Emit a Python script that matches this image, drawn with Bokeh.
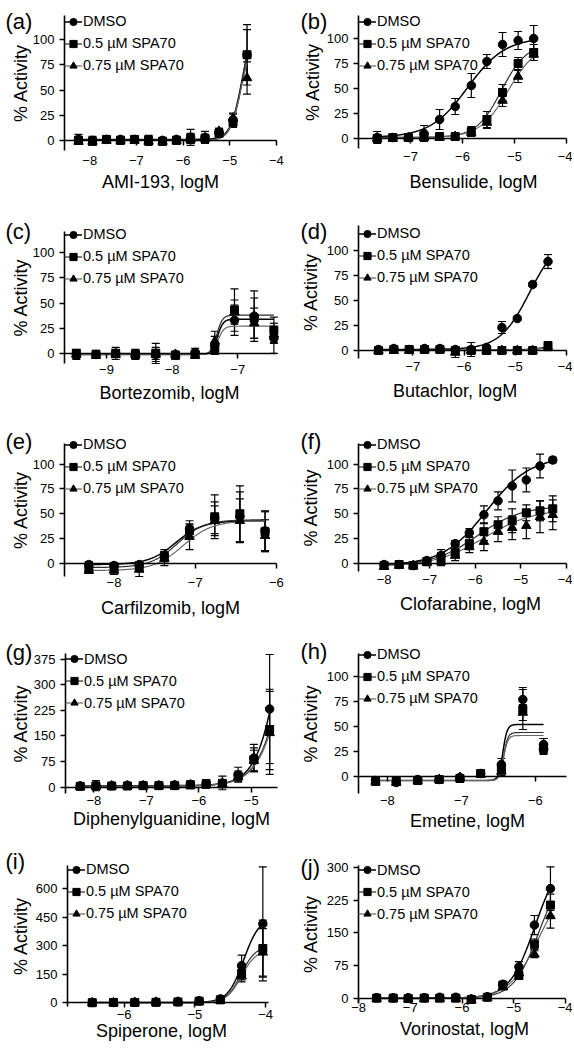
import math
import numpy as np
from bokeh.plotting import figure
from bokeh.models import (Range1d, FixedTicker, LinearAxis, Whisker, TeeHead,
                          ColumnDataSource, Label)
from bokeh.layouts import gridplot
from bokeh.embed import file_html
from bokeh.resources import INLINE

SERIES = ["DMSO", "0.5 \u00b5M SPA70", "0.75 \u00b5M SPA70"]
Y100_TICKS = [0, 25, 50, 75, 100]

# (a) AMI-193
A_X = [-8.24, -7.94, -7.64, -7.34, -7.04, -6.74, -6.44, -6.14, -5.84, -5.53, -5.23, -4.93, -4.63]
A_DMSO = [1, 0, 1, 1, 1, 0, 0, 1, 3, 3, 8, 20, 85]
A_DMSO_SD = [5, 4, 3, 3, 3, 5, 3, 3, 8, 6, 4, 7, 30]
A_SPA05 = [0, -1, 1, 0, 1, 0, -1, 0, 2, 2, 7, 18, 85]
A_SPA05_SD = [4, 3, 2, 3, 2, 4, 3, 2, 5, 4, 3, 5, 25]
A_SPA075 = [-1, -1, 0, 0, 0, -1, -1, 0, 1, 2, 9, 22, 62]
A_SPA075_SD = [3, 3, 2, 2, 2, 3, 2, 2, 4, 3, 3, 4, 16]
A_BOTTOM = [1, 0, 0]
A_TOP = [120, 125, 110]
A_LOGEC50 = [-4.735, -4.72, -4.74]
A_HILL = [3.5, 3.5, 3.4]
A_XTICKS = [-8, -7, -6, -5, -4]

# (b) Bensulide
B_X = [-7.64, -7.34, -7.04, -6.74, -6.44, -6.14, -5.83, -5.53, -5.23, -4.93, -4.63]
B_DMSO = [1, 1, 1, 5, 19, 32, 53, 77, 94, 98, 100]
B_DMSO_SD = [6, 3, 2, 8, 10, 8, 12, 7, 12, 9, 13]
B_SPA05 = [0, 1, 1, 2, 2, 2, 7, 19, 46, 75, 86]
B_SPA05_SD = [4, 3, 2, 3, 2, 2, 5, 8, 8, 6, 8]
B_SPA075 = [0, 0, 1, 1, 1, 2, 6, 16, 38, 62, 84]
B_SPA075_SD = [3, 2, 2, 2, 2, 2, 4, 6, 6, 6, 6]
B_BOTTOM = [1, 1, 1]
B_TOP = [101, 95, 95]
B_LOGEC50 = [-5.9, -5.25, -5.12]
B_HILL = [1.2, 1.8, 1.6]
B_XTICKS = [-7, -6, -5, -4]

# (c) Bortezomib
C_X = [-9.46, -9.16, -8.86, -8.56, -8.25, -7.95, -7.65, -7.35, -7.05, -6.75, -6.45]
C_DMSO = [-1, -1, 0, -1, -1, -1, 1, 9, 33, 37, 15]
C_DMSO_SD = [5, 4, 6, 5, 7, 3, 4, 8, 15, 25, 15]
C_SPA05 = [0, -1, 0, -1, 0, -2, -1, 5, 43, 35, 23]
C_SPA05_SD = [3, 3, 4, 4, 10, 3, 3, 6, 21, 20, 13]
C_SPA075 = [-1, -2, -1, -1, -1, -1, -2, 12, 41, 30, 19]
C_SPA075_SD = [4, 3, 3, 3, 5, 3, 3, 10, 12, 15, 8]
C_BOTTOM = [-1, -1, -1]
C_TOP = [34, 38, 27]
C_LOGEC50 = [-7.31, -7.32, -7.30]
C_HILL = [10, 10, 10]
C_XTICKS = [-9, -8, -7]

# (d) Butachlor
D_X = [-7.67, -7.37, -7.07, -6.77, -6.47, -6.17, -5.86, -5.56, -5.26, -4.96, -4.66, -4.36]
D_DMSO = [1, 2, 1, 2, 2, 1, 1, 3, 23, 32, 66, 89]
D_DMSO_SD = [1, 1, 1, 1, 1, 1, 7, 2, 6, 2, 2, 7]
D_SPA05 = [0, 1, 1, 1, 1, 0, 0, 0, 0, 0, 0, 5]
D_SPA05_SD = [1, 1, 1, 1, 1, 1, 1, 1, 1, 1, 1, 3]
D_SPA075 = [0, 0, 0, 1, 1, -2, 0, 0, 0, 0, 0, 3]
D_SPA075_SD = [1, 1, 1, 1, 1, 5, 1, 1, 1, 1, 1, 3]
D_BOTTOM = [1, 0.5, 0]
D_TOP = [115, 8, 6]
D_LOGEC50 = [-4.72, -4.3, -4.3]
D_HILL = [1.5, 2, 2]
D_XTICKS = [-7, -6, -5, -4]

# (e) Carfilzomib
E_X = [-8.31, -8.0, -7.69, -7.38, -7.07, -6.76, -6.45, -6.14]
E_DMSO = [-1, -2, -1, 8, 35, 46, 47, 33]
E_DMSO_SD = [3, 3, 3, 6, 8, 16, 25, 20]
E_SPA05 = [-5, -5, -3, 7, 33, 47, 50, 32]
E_SPA05_SD = [3, 3, 3, 5, 6, 22, 28, 20]
E_SPA075 = [-7, -7, -6, 5, 27, 43, 43, 28]
E_SPA075_SD = [3, 4, 7, 7, 13, 15, 22, 16]
E_BOTTOM = [-1, -4, -7]
E_TOP = [43, 44, 43]
E_LOGEC50 = [-7.24, -7.22, -7.15]
E_HILL = [2.6, 2.6, 2.4]
E_XTICKS = [-8, -7, -6]

# (f) Clofarabine
F_X = [-8.0, -7.67, -7.36, -7.06, -6.75, -6.44, -6.13, -5.81, -5.5, -5.19, -4.88, -4.58, -4.3]
F_DMSO = [-1, -1, -2, 3, 8, 20, 31, 49, 63, 78, 84, 98, 104]
F_DMSO_SD = [3, 3, 2, 3, 6, 3, 4, 9, 9, 16, 12, 12, 3]
F_SPA05 = [-2, -1, -2, 2, 5, 11, 20, 32, 39, 43, 51, 53, 55]
F_SPA05_SD = [3, 4, 2, 3, 6, 4, 6, 9, 8, 12, 8, 10, 13]
F_SPA075 = [-3, -2, -2, 1, 2, 8, 17, 22, 32, 36, 38, 47, 49]
F_SPA075_SD = [3, 3, 2, 3, 4, 5, 6, 9, 10, 12, 13, 16, 15]
F_BOTTOM = [-2, -2, -3]
F_TOP = [108, 58, 55]
F_LOGEC50 = [-5.75, -5.95, -5.8]
F_HILL = [0.9, 0.9, 0.8]
F_XTICKS = [-8, -7, -6, -5, -4]

# (g) Diphenylguanidine
G_X = [-8.26, -7.96, -7.66, -7.36, -7.06, -6.76, -6.46, -6.16, -5.86, -5.55, -5.25, -4.95, -4.65]
G_DMSO = [3, 4, 4, 5, 5, 5, 6, 8, 10, 12, 36, 85, 229]
G_DMSO_SD = [8, 15, 5, 6, 8, 8, 8, 10, 12, 20, 22, 40, 160]
G_SPA05 = [2, 3, 3, 3, 4, 4, 4, 6, 8, 10, 32, 80, 169]
G_SPA05_SD = [5, 6, 4, 5, 8, 6, 6, 6, 8, 12, 15, 35, 118]
G_SPA075 = [1, 2, 3, 3, 3, 3, 4, 5, 7, 9, 30, 78, 159]
G_SPA075_SD = [5, 5, 4, 4, 5, 5, 5, 6, 7, 10, 12, 30, 122]
G_BOTTOM = [4, 3, 3]
G_TOP = [1000, 1000, 1000]
G_LOGEC50 = [-4.34, -4.21, -4.19]
G_HILL = [1.8, 1.6, 1.6]
G_XTICKS = [-8, -7, -6, -5]
G_YTICKS = [0, 75, 150, 225, 300, 375]

# (h) Emetine
H_X = [-8.16, -7.88, -7.59, -7.30, -7.02, -6.74, -6.46, -6.17, -5.89]
H_DMSO = [-4, -6, -3, -3, -1, 3, 12, 77, 32]
H_DMSO_SD = [1, 3, 1, 1, 1, 1, 6, 12, 6]
H_SPA05 = [-5, -5, -4, -3, -2, 3, 8, 67, 28]
H_SPA05_SD = [1, 2, 1, 1, 1, 1, 5, 20, 5]
H_SPA075 = [-5, -6, -4, -3, -1, 2, 5, 64, 30]
H_SPA075_SD = [1, 2, 1, 1, 1, 1, 4, 8, 8]
H_BOTTOM = [-4, -4, -4]
H_TOP = [52, 44, 41]
H_LOGEC50 = [-6.44, -6.43, -6.43]
H_HILL = [15, 15, 15]
H_XTICKS = [-8, -7, -6]

# (i) Spiperone
I_X = [-6.45, -6.15, -5.85, -5.55, -5.24, -4.94, -4.64, -4.34, -4.04]
I_DMSO = [1, 1, 2, 3, 5, 10, 20, 195, 415]
I_DMSO_SD = [1, 1, 1, 2, 3, 5, 5, 55, 300]
I_SPA05 = [0, 1, 1, 2, 4, 8, 15, 155, 285]
I_SPA05_SD = [1, 1, 1, 2, 3, 4, 5, 35, 150]
I_SPA075 = [0, 0, 1, 2, 3, 6, 12, 140, 265]
I_SPA075_SD = [1, 1, 1, 2, 2, 3, 4, 30, 125]
I_BOTTOM = [1, 0, 0]
I_TOP = [450, 300, 280]
I_LOGEC50 = [-4.31, -4.347, -4.34]
I_HILL = [3.9, 4.17, 4.15]
I_XTICKS = [-6, -5, -4]
I_YTICKS = [0, 150, 300, 450, 600]

# (j) Vorinostat
J_X = [-7.65, -7.33, -7.04, -6.73, -6.43, -6.12, -5.82, -5.51, -5.21, -4.90, -4.60, -4.29]
J_DMSO = [1, 1, 1, 1, 2, 2, -2, 3, 32, 72, 168, 252]
J_DMSO_SD = [3, 3, 3, 3, 3, 3, 3, 3, 5, 12, 22, 50]
J_SPA05 = [0, 0, -1, 0, 0, 0, -3, 2, 30, 52, 124, 214]
J_SPA05_SD = [3, 3, 3, 3, 3, 3, 3, 3, 5, 8, 12, 25]
J_SPA075 = [-1, -1, -2, -1, -1, -1, -4, 1, 25, 58, 101, 189]
J_SPA075_SD = [2, 2, 2, 2, 2, 2, 2, 2, 4, 6, 8, 28]
J_BOTTOM = [0, 0, -1]
J_TOP = [330, 300, 280]
J_LOGEC50 = [-4.59, -4.52, -4.51]
J_HILL = [1.77, 1.79, 1.5]
J_XTICKS = [-8, -7, -6, -5, -4]
J_YTICKS = [0, 75, 150, 225, 300]

PANELS = [
    dict(tag="(a)", xlabel="AMI-193, logM", x=A_X, y=[A_DMSO, A_SPA05, A_SPA075],
         sd=[A_DMSO_SD, A_SPA05_SD, A_SPA075_SD], fit=(A_BOTTOM, A_TOP, A_LOGEC50, A_HILL),
         xticks=A_XTICKS, yticks=Y100_TICKS),
    dict(tag="(b)", xlabel="Bensulide, logM", x=B_X, y=[B_DMSO, B_SPA05, B_SPA075],
         sd=[B_DMSO_SD, B_SPA05_SD, B_SPA075_SD], fit=(B_BOTTOM, B_TOP, B_LOGEC50, B_HILL),
         xticks=B_XTICKS, yticks=Y100_TICKS),
    dict(tag="(c)", xlabel="Bortezomib, logM", x=C_X, y=[C_DMSO, C_SPA05, C_SPA075],
         sd=[C_DMSO_SD, C_SPA05_SD, C_SPA075_SD], fit=(C_BOTTOM, C_TOP, C_LOGEC50, C_HILL),
         xticks=C_XTICKS, yticks=Y100_TICKS),
    dict(tag="(d)", xlabel="Butachlor, logM", x=D_X, y=[D_DMSO, D_SPA05, D_SPA075],
         sd=[D_DMSO_SD, D_SPA05_SD, D_SPA075_SD], fit=(D_BOTTOM, D_TOP, D_LOGEC50, D_HILL),
         xticks=D_XTICKS, yticks=Y100_TICKS),
    dict(tag="(e)", xlabel="Carfilzomib, logM", x=E_X, y=[E_DMSO, E_SPA05, E_SPA075],
         sd=[E_DMSO_SD, E_SPA05_SD, E_SPA075_SD], fit=(E_BOTTOM, E_TOP, E_LOGEC50, E_HILL),
         xticks=E_XTICKS, yticks=Y100_TICKS),
    dict(tag="(f)", xlabel="Clofarabine, logM", x=F_X, y=[F_DMSO, F_SPA05, F_SPA075],
         sd=[F_DMSO_SD, F_SPA05_SD, F_SPA075_SD], fit=(F_BOTTOM, F_TOP, F_LOGEC50, F_HILL),
         xticks=F_XTICKS, yticks=Y100_TICKS),
    dict(tag="(g)", xlabel="Diphenylguanidine, logM", x=G_X, y=[G_DMSO, G_SPA05, G_SPA075],
         sd=[G_DMSO_SD, G_SPA05_SD, G_SPA075_SD], fit=(G_BOTTOM, G_TOP, G_LOGEC50, G_HILL),
         xticks=G_XTICKS, yticks=G_YTICKS),
    dict(tag="(h)", xlabel="Emetine, logM", x=H_X, y=[H_DMSO, H_SPA05, H_SPA075],
         sd=[H_DMSO_SD, H_SPA05_SD, H_SPA075_SD], fit=(H_BOTTOM, H_TOP, H_LOGEC50, H_HILL),
         xticks=H_XTICKS, yticks=Y100_TICKS),
    dict(tag="(i)", xlabel="Spiperone, logM", x=I_X, y=[I_DMSO, I_SPA05, I_SPA075],
         sd=[I_DMSO_SD, I_SPA05_SD, I_SPA075_SD], fit=(I_BOTTOM, I_TOP, I_LOGEC50, I_HILL),
         xticks=I_XTICKS, yticks=I_YTICKS),
    dict(tag="(j)", xlabel="Vorinostat, logM", x=J_X, y=[J_DMSO, J_SPA05, J_SPA075],
         sd=[J_DMSO_SD, J_SPA05_SD, J_SPA075_SD], fit=(J_BOTTOM, J_TOP, J_LOGEC50, J_HILL),
         xticks=J_XTICKS, yticks=J_YTICKS),
]

# layout in reference-cell px: y-axis x, x-axis right end, y-axis top, y-axis bottom;
# axis extents; legend first-row offset; tag centre; x title centre; tick-label centre;
# y title centre x
LAYOUT = [
    dict(frame=(64, 276, 15, 150), xr=(-8.54, -3.999), yr=(-10, 124), leg=5, tagc=21,
         title=(160, 181), tickc=162.5, ylab=20),
    dict(frame=(71, 279, 15, 148), xr=(-8.0, -3.999), yr=(-10, 123), leg=5, tagc=21,
         title=(186, 181), tickc=157.5, ylab=25),
    dict(frame=(64, 276, 21, 153), xr=(-9.64, -6.41), yr=(-10, 121), leg=2, tagc=21,
         title=(169, 182), tickc=162, ylab=20),
    dict(frame=(71, 282, 15, 148), xr=(-8.06, -3.999), yr=(-8, 125), leg=7, tagc=21,
         title=(169, 180), tickc=157.5, ylab=23),
    dict(frame=(64, 276, 23, 156), xr=(-8.61, -5.999), yr=(-13, 120.6), leg=0, tagc=21,
         title=(170, 187), tickc=164, ylab=20),
    dict(frame=(71, 281, 23, 151), xr=(-8.56, -3.999), yr=(-8, 120.6), leg=0, tagc=21,
         title=(184, 183), tickc=161, ylab=23),
    dict(frame=(65, 277, 23, 163), xr=(-8.54, -4.5), yr=(-19, 392), leg=4.5, tagc=22,
         title=(171, 188), tickc=172, ylab=20),
    dict(frame=(71, 283, 23, 163), xr=(-8.39, -5.58), yr=(-17, 123), leg=0, tagc=21,
         title=(182, 190), tickc=172, ylab=23),
    dict(frame=(67, 268, 25, 166), xr=(-6.8, -3.96), yr=(-20, 722), leg=3, tagc=21,
         title=(161, 190), tickc=176, ylab=20),
    dict(frame=(71, 278, 25, 162), xr=(-8.001, -3.999), yr=(-10, 305), leg=3.5, tagc=27,
         title=(177, 188), tickc=166, ylab=23),
]

FONT = "Liberation Sans"
W, H = 286, 209
MARKERS = ["circle", "square", "triangle"]
MSIZE = [8.5, 8, 9.5]
LCOL = ["#000000", "#2e2e2e", "#666666"]
LW = [1.5, 1.2, 1.2]
LABEL_H, SPACING = 19, 3


def make_panel(cfg, lay, k):
    col, row = k % 2, k // 2

    def m(c):
        return c + row

    cl, cr, ct, cb = lay["frame"]
    if col == 0:
        off, right = 0, min(cr, W - 7)
    else:
        off, right = 1, min(cr + 1, W - 6)
    L = cl + off
    tag_x = (5 if col == 0 else 13) + off

    def fx(c):
        return L + (c - cl) * (right - L) / (cr - cl)

    x0, x1 = lay["xr"]
    ys0, ytop = lay["yr"]
    top, bot = m(ct), m(cb)
    ppx = (right - L) / (x1 - x0)
    ppy = (bot - top) / (ytop - ys0)
    p = figure(width=W, height=H,
               x_range=Range1d(x0 - L / ppx, x1 + (W - right) / ppx),
               y_range=Range1d(ys0 - (H - bot) / ppy, ytop + top / ppy),
               x_axis_location=None, y_axis_location=None, min_border=0,
               output_backend="svg", toolbar_location=None)
    p.outline_line_color = None
    p.xgrid.visible = False
    p.ygrid.visible = False
    p.background_fill_color = "white"
    p.border_fill_color = "white"

    x = cfg["x"]
    fb, ft, fe, fhl = cfg["fit"]
    xs = np.linspace(min(x), max(x), 400)
    for i in range(3):
        yc = fb[i] + (ft[i] - fb[i]) / (1 + 10 ** ((fe[i] - xs) * fhl[i]))
        p.line(xs, yc, line_color=LCOL[i], line_width=LW[i], legend_label=SERIES[i])
    for i in range(3):
        yv, sv = cfg["y"][i], cfg["sd"][i]
        src = ColumnDataSource(dict(x=x, lower=[a - b for a, b in zip(yv, sv)],
                                    upper=[a + b for a, b in zip(yv, sv)]))
        p.add_layout(Whisker(source=src, base="x", lower="lower", upper="upper",
                             line_color="black", line_width=1.2,
                             upper_head=TeeHead(size=8, line_color="black", line_width=1.2),
                             lower_head=TeeHead(size=8, line_color="black", line_width=1.2)))
    for i in range(3):
        p.scatter(x, cfg["y"][i], marker=MARKERS[i], size=MSIZE[i], fill_color="black",
                  line_color="black", legend_label=SERIES[i])

    # x axis crossing at y = 0
    zero_px = top + ytop * ppy
    x_standoff = m(lay["tickc"]) - 6.6 - zero_px - 5
    xa = LinearAxis(fixed_location=0, bounds=(x0, x1),
                    ticker=FixedTicker(ticks=cfg["xticks"]),
                    axis_line_color="black", axis_line_width=1.6,
                    major_tick_out=5, major_tick_in=0, major_tick_line_width=1.5,
                    major_tick_line_color="black", minor_tick_line_color=None,
                    major_label_standoff=int(round(max(0, x_standoff))),
                    major_label_text_font=FONT, major_label_text_font_size="13px",
                    major_label_text_color="black")
    p.add_layout(xa, "below")

    ya = LinearAxis(fixed_location=x0, bounds=(ys0, ytop),
                    ticker=FixedTicker(ticks=cfg["yticks"]),
                    axis_line_color="black", axis_line_width=1.6,
                    major_tick_out=5, major_tick_in=0, major_tick_line_width=1.5,
                    major_tick_line_color="black", minor_tick_line_color=None,
                    major_label_standoff=5,
                    major_label_text_font=FONT, major_label_text_font_size="13px",
                    major_label_text_color="black")
    p.add_layout(ya, "left")

    # axis titles and panel letter
    tx, ty = lay["title"]
    p.add_layout(Label(x=fx(tx), y=H - m(ty), x_units="screen", y_units="screen",
                       text=cfg["xlabel"], text_font=FONT, text_font_size="18px",
                       text_color="black", text_align="center", text_baseline="middle"))
    p.add_layout(Label(x=lay["ylab"] + off, y=H - (top + bot) / 2,
                       x_units="screen", y_units="screen",
                       angle=math.pi / 2, text="% Activity", text_font=FONT,
                       text_font_size="18px", text_color="black",
                       text_align="center", text_baseline="middle"))
    p.add_layout(Label(x=tag_x, y=H - m(lay["tagc"]), x_units="screen", y_units="screen",
                       text=cfg["tag"], text_font=FONT, text_font_size="22px",
                       text_color="black", text_align="left", text_baseline="middle"))

    lg = p.legend[0]
    leg_h = 3 * LABEL_H + 2 * SPACING
    leg_top = m(ct + lay["leg"]) + 1 - LABEL_H / 2
    lg.location = (L, H - (leg_top + leg_h))
    lg.background_fill_alpha = 0
    lg.border_line_color = None
    lg.padding = 0
    lg.margin = 0
    lg.spacing = SPACING
    lg.label_height = LABEL_H
    lg.glyph_height = LABEL_H
    lg.glyph_width = 18
    lg.label_standoff = 1
    lg.label_text_font = FONT
    lg.label_text_font_size = "14.5px"
    lg.label_text_color = "black"
    lg.label_text_baseline = "middle"
    return p


figs = [make_panel(cfg, lay, k) for k, (cfg, lay) in enumerate(zip(PANELS, LAYOUT))]
grid = gridplot([[figs[r * 2], figs[r * 2 + 1]] for r in range(5)], toolbar_location=None)

open("out.html", "w").write(file_html(grid, INLINE))
